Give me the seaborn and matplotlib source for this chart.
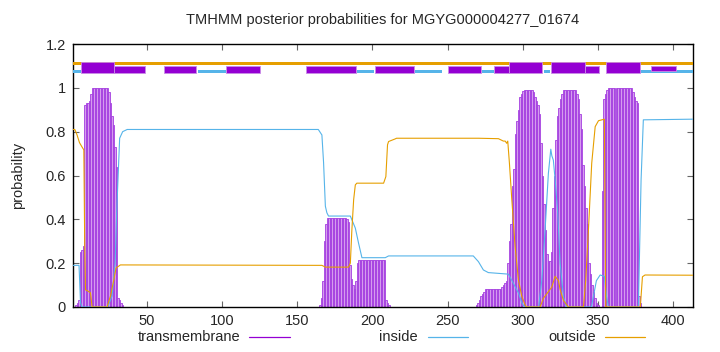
import numpy as np
import matplotlib
matplotlib.use("Agg")
import matplotlib.pyplot as plt
from matplotlib.patches import Rectangle
from matplotlib.lines import Line2D
import seaborn as sns

# ---------------- data ----------------
title = "TMHMM posterior probabilities for MGYG000004277_01674"
seq_len = 413

x_ticks = [50, 100, 150, 200, 250, 300, 350, 400]
y_ticks = [0, 0.2, 0.4, 0.6, 0.8, 1, 1.2]
y_tick_labels = ["0", "0.2", "0.4", "0.6", "0.8", "1", "1.2"]

# posterior "inside" probability (breakpoints)
inside_pos = [1, 5, 6, 7, 24, 27, 29, 30, 31, 32, 34, 37, 164, 166.4, 167.5, 168.7,
              169.7, 170.8, 185.3, 188.6, 190.8, 193, 208.5, 210.7, 267, 270.4, 273.7,
              277, 290.3, 292.5, 297, 299.2, 301, 310.4, 312.5, 314.7, 316.9, 318.5,
              319.2, 320.2, 321.4, 323.1, 324.7, 326.9, 328.9, 345.5, 348.8, 351.3,
              354.1, 355.5, 356.8, 376.7, 378.5, 380, 413]
inside_prob = [0.19, 0.19, 0.02, 0.0, 0.0, 0.05, 0.2, 0.43, 0.6, 0.77, 0.8, 0.81, 0.81,
               0.785, 0.66, 0.46, 0.43, 0.415, 0.415, 0.36, 0.29, 0.225, 0.225, 0.233,
               0.233, 0.207, 0.169, 0.157, 0.15, 0.123, 0.064, 0.02, 0.0, 0.0, 0.12,
               0.35, 0.61, 0.72, 0.69, 0.67, 0.58, 0.43, 0.2, 0.047, 0.0, 0.0, 0.12,
               0.146, 0.14, 0.05, 0.0, 0.0, 0.58, 0.854, 0.857]

# posterior "outside" probability
outside_pos = [1, 2.2, 3.7, 5.3, 7, 8.2, 8.8, 9.3, 10.4, 12.6, 13.7, 23.6, 25.9, 28.1,
               29.6, 32.5, 166.4, 168.7, 184.1, 185.3, 186.3, 187.5, 188.6, 189.6,
               207.4, 208.9, 210, 210.7, 215.1, 216, 270.4, 283.7, 287, 288.2, 289.2,
               289.9, 291, 292.5, 294.8, 297, 299.2, 301.4, 302.3, 311.4, 313.6, 316.9,
               319.1, 321.4, 323.6, 324.7, 326.9, 330.2, 340.2, 341.7, 343.5, 345.7,
               348, 350.2, 354.1, 355, 378, 379.4, 381.1, 413]
outside_prob = [0.81, 0.81, 0.785, 0.75, 0.73, 0.717, 0.275, 0.078, 0.075, 0.065, 0.0,
                0.0, 0.05, 0.123, 0.178, 0.192, 0.19, 0.182, 0.182, 0.2, 0.35, 0.49,
                0.557, 0.565, 0.565, 0.595, 0.74, 0.755, 0.767, 0.77, 0.77, 0.768,
                0.757, 0.757, 0.747, 0.757, 0.657, 0.5, 0.275, 0.123, 0.05, 0.01, 0.0,
                0.0, 0.04, 0.07, 0.09, 0.14, 0.12, 0.08, 0.03, 0.0, 0.0, 0.12, 0.35,
                0.656, 0.823, 0.85, 0.857, 0.0, 0.0, 0.138, 0.146, 0.145]

# posterior "transmembrane" probability, per residue (non-zero stretches)
tm1_start = 3
tm1_vals = [0.01, 0.02, 0.03, 0.25, 0.26, 0.28, 0.92, 0.93, 0.93, 0.94, 0.97,
            1.0, 1.0, 1.0, 1.0, 1.0, 1.0, 1.0, 1.0, 1.0, 1.0, 1.0, 0.98, 0.93, 0.87,
            0.83, 0.73, 0.64, 0.04, 0.03, 0.02, 0.01]
tm2_start = 165
tm2_vals = [0.01, 0.04, 0.12, 0.3, 0.38, 0.405, 0.405, 0.405, 0.405, 0.405, 0.405,
            0.405, 0.405, 0.405, 0.405, 0.405, 0.405, 0.405, 0.4, 0.39, 0.19, 0.13,
            0.1, 0.08, 0.12, 0.2, 0.215, 0.215, 0.215, 0.215, 0.215, 0.215, 0.215,
            0.215, 0.215, 0.215, 0.215, 0.215, 0.215, 0.215, 0.215, 0.215, 0.215,
            0.215, 0.03, 0.02, 0.01]
tm3_start = 269
tm3_vals = [0.01, 0.02, 0.03, 0.05, 0.06, 0.07, 0.08, 0.08, 0.08, 0.08, 0.08, 0.08,
            0.08, 0.08, 0.08, 0.08, 0.08, 0.09, 0.1, 0.11, 0.12, 0.2, 0.3, 0.38,
            0.55, 0.63, 0.79, 0.85, 0.9, 0.96, 0.97, 0.985, 0.99, 0.99, 0.99, 0.99,
            0.99, 0.99, 0.98, 0.96, 0.94, 0.92, 0.88, 0.75, 0.6, 0.47, 0.35, 0.24,
            0.21, 0.21, 0.25, 0.45, 0.6, 0.76, 0.87, 0.91, 0.95, 0.97, 0.99, 0.99,
            0.99, 0.99, 0.99, 0.99, 0.99, 0.99, 0.99, 0.97, 0.95, 0.88, 0.81, 0.65,
            0.55, 0.45, 0.38, 0.2, 0.15, 0.1, 0.07, 0.04, 0.02, 0.01, 0.0, 0.0,
            0.53, 0.95, 0.97, 0.99, 1.0, 1.0, 1.0, 1.0, 1.0, 1.0, 1.0, 1.0, 1.0,
            1.0, 1.0, 1.0, 1.0, 1.0, 1.0, 1.0, 0.98, 0.96, 0.94, 0.93, 0.05, 0.02]

# predicted topology strip at the top (residue ranges)
topo_tm_tall = [(6, 28.1), (291, 312.5), (318.9, 341.5), (355.5, 378)]
topo_tm_low = [(28.1, 48.7), (61.3, 83), (103, 125), (155.6, 188.8), (201.4, 227.3),
               (250.5, 272.4), (281, 291), (341.5, 350.8)]
topo_tm_raised = [(385.3, 402)]
topo_inside = [(0.5, 6), (84, 103), (189.5, 201), (228, 246), (273, 281),
               (313.7, 318.3), (378, 413)]
topo_outside = [(0.5, 413)]

# ---------------- style ----------------
C_TM = "#9400d3"
C_IN = "#56b4e9"
C_OUT = "#e69f00"

sns.set_theme(style="white")
plt.rcParams["font.family"] = ["Liberation Sans", "DejaVu Sans"]

fig = plt.figure(figsize=(7.2, 3.52), dpi=100)
ax = fig.add_axes([73 / 720, 45 / 352, 620 / 720, 263 / 352])

# transmembrane impulses
for start, vals in [(tm1_start, tm1_vals), (tm2_start, tm2_vals), (tm3_start, tm3_vals)]:
    res = np.arange(start, start + len(vals))
    ax.bar(res, vals, width=1.0, color="#d59cee", edgecolor="#a43ee0",
           linewidth=0.6, zorder=2)

sns.lineplot(x=inside_pos, y=inside_prob, ax=ax, color=C_IN, linewidth=0.8,
             estimator=None, sort=False, zorder=3)
sns.lineplot(x=outside_pos, y=outside_prob, ax=ax, color=C_OUT, linewidth=0.8,
             estimator=None, sort=False, zorder=3)

# topology strip
for a, b in topo_outside:
    ax.add_patch(Rectangle((a, 1.102), b - a, 0.017, facecolor=C_OUT, edgecolor="none", zorder=4))
for a, b in topo_inside:
    ax.add_patch(Rectangle((a, 1.068), b - a, 0.012, facecolor=C_IN, edgecolor="none", zorder=4))
for a, b in topo_tm_low:
    ax.add_patch(Rectangle((a, 1.067), b - a, 0.0335, facecolor=C_TM, edgecolor="#c98de6",
                           linewidth=0.6, zorder=5))
for a, b in topo_tm_raised:
    ax.add_patch(Rectangle((a, 1.0776), b - a, 0.023, facecolor=C_TM, edgecolor="#c98de6",
                           linewidth=0.6, zorder=5))
for a, b in topo_tm_tall:
    ax.add_patch(Rectangle((a, 1.067), b - a, 0.05, facecolor=C_TM, edgecolor="#c98de6",
                           linewidth=0.6, zorder=5))

ax.set_xlim(1, seq_len)
ax.set_ylim(0, 1.2)
ax.set_xticks(x_ticks)
ax.set_xticklabels([str(t) for t in x_ticks])
ax.set_yticks(y_ticks)
ax.set_yticklabels(y_tick_labels)
ax.tick_params(direction="in", length=4, width=0.8, color="#666666", labelsize=10.5,
               top=True, right=True, bottom=True, left=True, pad=5)
for s in ax.spines.values():
    s.set_color("black")
    s.set_linewidth(1.0)
ax.set_xlabel("")
ax.set_ylabel("probability", fontsize=10.5, labelpad=15)
ax.grid(False)

fig.text(383 / 720, 1 - 20 / 352, title, ha="center", va="center", fontsize=10.5)

# legend (gnuplot style: key text then sample line)
legend_items = [("transmembrane", C_TM, 240, 249, 290),
                ("inside", C_IN, 418, 428, 468),
                ("outside", C_OUT, 596, 605, 645)]
ly = 1 - 337 / 352
for label, col, tx, l0, l1 in legend_items:
    fig.text(tx / 720, ly, label, ha="right", va="center", fontsize=10.5)
    fig.add_artist(Line2D([l0 / 720, l1 / 720], [ly, ly], color=col, linewidth=0.9,
                          transform=fig.transFigure))

fig.savefig("out.png", dpi=100)
